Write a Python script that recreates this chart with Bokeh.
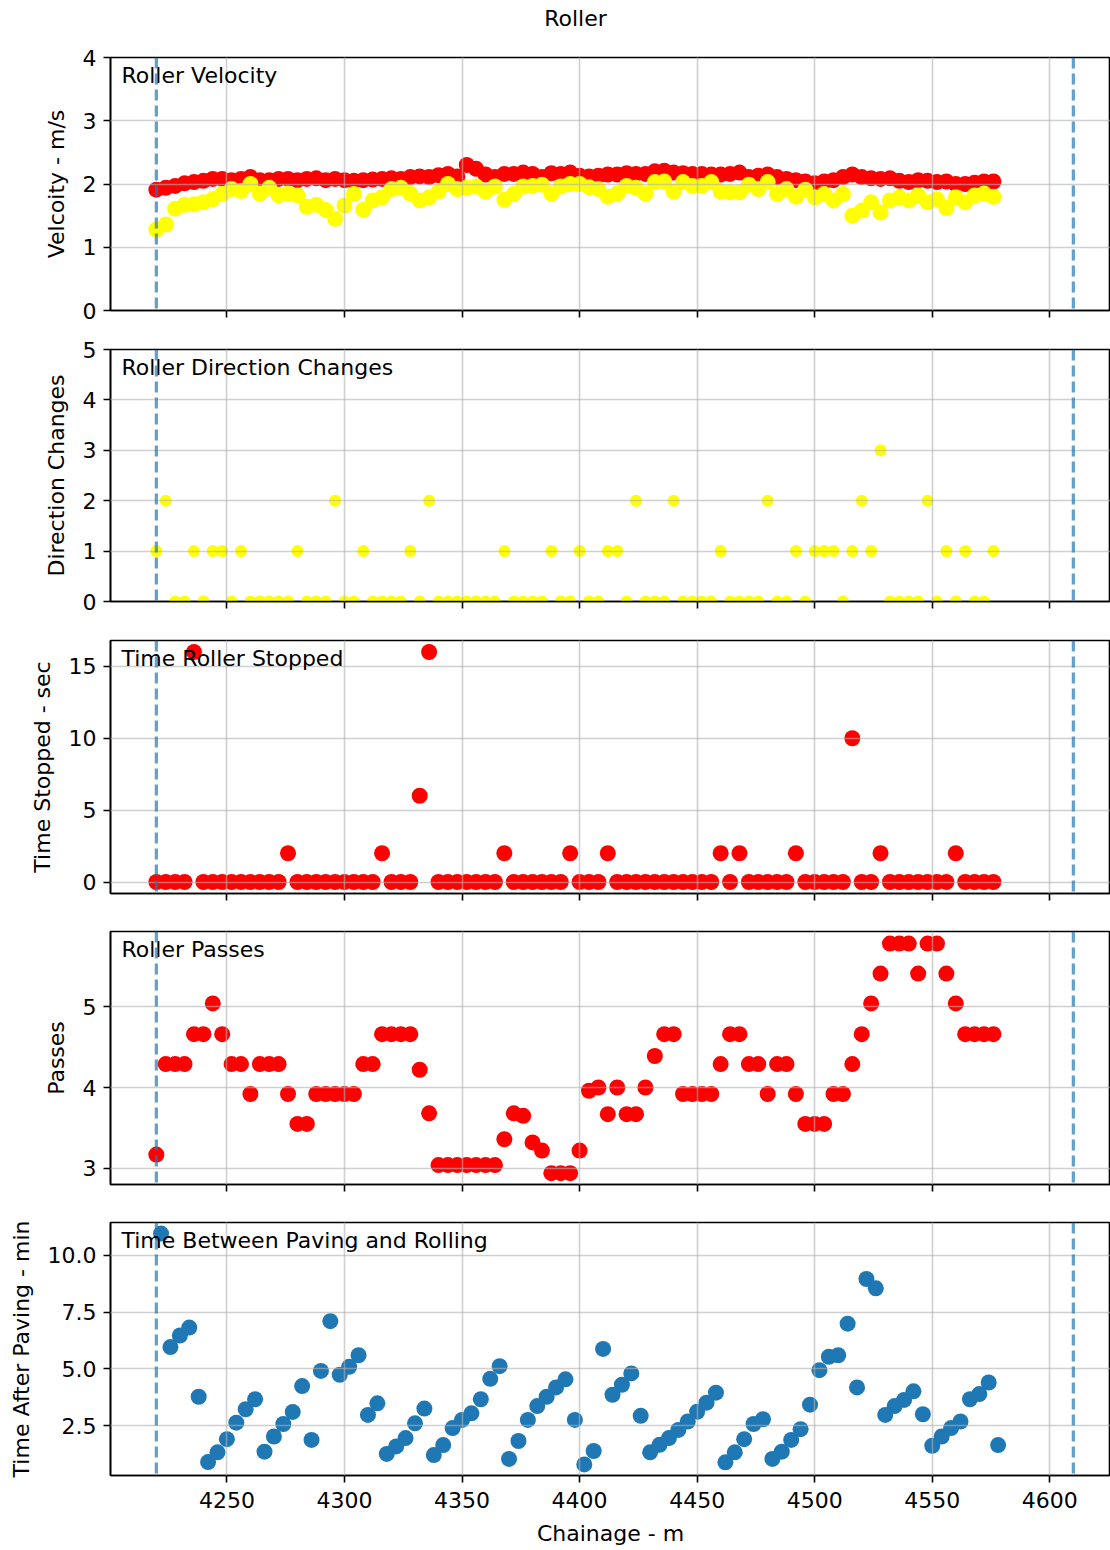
from bokeh.plotting import figure
from bokeh.layouts import column
from bokeh.models import Range1d, FixedTicker, Span, Label, NumeralTickFormatter
from bokeh.embed import file_html
from bokeh.resources import INLINE

# ---------------- data ----------------
chainage = [4220, 4224, 4228, 4232, 4236, 4240, 4244, 4248, 4252, 4256,
            4260, 4264, 4268, 4272, 4276, 4280, 4284, 4288, 4292, 4296,
            4300, 4304, 4308, 4312, 4316, 4320, 4324, 4328, 4332, 4336,
            4340, 4344, 4348, 4352, 4356, 4360, 4364, 4368, 4372, 4376,
            4380, 4384, 4388, 4392, 4396, 4400, 4404, 4408, 4412, 4416,
            4420, 4424, 4428, 4432, 4436, 4440, 4444, 4448, 4452, 4456,
            4460, 4464, 4468, 4472, 4476, 4480, 4484, 4488, 4492, 4496,
            4500, 4504, 4508, 4512, 4516, 4520, 4524, 4528, 4532, 4536,
            4540, 4544, 4548, 4552, 4556, 4560, 4564, 4568, 4572, 4576]

paving_chainage = [4222, 4226, 4230, 4234, 4238, 4242, 4246, 4250, 4254, 4258,
                   4262, 4266, 4270, 4274, 4278, 4282, 4286, 4290, 4294, 4298,
                   4302, 4306, 4310, 4314, 4318, 4322, 4326, 4330, 4334, 4338,
                   4342, 4346, 4350, 4354, 4358, 4362, 4366, 4370, 4374, 4378,
                   4382, 4386, 4390, 4394, 4398, 4402, 4406, 4410, 4414, 4418,
                   4422, 4426, 4430, 4434, 4438, 4442, 4446, 4450, 4454, 4458,
                   4462, 4466, 4470, 4474, 4478, 4482, 4486, 4490, 4494, 4498,
                   4502, 4506, 4510, 4514, 4518, 4522, 4526, 4530, 4534, 4538,
                   4542, 4546, 4550, 4554, 4558, 4562, 4566, 4570, 4574, 4578]

velocity_red = [1.91, 1.94, 1.97, 2.01, 2.03, 2.05, 2.08, 2.08, 2.06, 2.08,
                2.11, 2.06, 2.06, 2.08, 2.08, 2.06, 2.08, 2.09, 2.06, 2.08,
                2.06, 2.05, 2.06, 2.07, 2.08, 2.09, 2.08, 2.11, 2.12, 2.11,
                2.14, 2.16, 2.12, 2.30, 2.24, 2.15, 2.11, 2.16, 2.16, 2.18,
                2.16, 2.11, 2.17, 2.16, 2.18, 2.13, 2.12, 2.13, 2.15, 2.15,
                2.17, 2.16, 2.16, 2.20, 2.21, 2.18, 2.17, 2.16, 2.16, 2.15,
                2.15, 2.16, 2.18, 2.11, 2.13, 2.15, 2.11, 2.08, 2.06, 2.04,
                2.01, 2.04, 2.06, 2.11, 2.15, 2.11, 2.09, 2.08, 2.09, 2.05,
                2.03, 2.06, 2.05, 2.03, 2.04, 2.00, 2.00, 2.02, 2.04, 2.04]

velocity_yellow = [1.28, 1.36, 1.61, 1.67, 1.68, 1.71, 1.76, 1.84, 1.92, 1.89,
                   2.00, 1.85, 1.94, 1.82, 1.85, 1.82, 1.64, 1.67, 1.59, 1.45,
                   1.66, 1.84, 1.59, 1.74, 1.79, 1.92, 1.94, 1.85, 1.74, 1.79,
                   1.88, 2.00, 1.92, 1.94, 1.96, 1.88, 1.96, 1.75, 1.84, 1.96,
                   1.97, 1.99, 1.85, 1.96, 2.00, 2.00, 1.95, 1.92, 1.80, 1.85,
                   1.97, 1.94, 1.85, 2.03, 2.04, 1.88, 2.03, 1.97, 1.97, 2.03,
                   1.88, 1.87, 1.87, 1.99, 1.92, 2.03, 1.84, 1.92, 1.80, 1.91,
                   1.79, 1.84, 1.74, 1.84, 1.50, 1.58, 1.71, 1.55, 1.74, 1.79,
                   1.74, 1.82, 1.71, 1.76, 1.62, 1.79, 1.71, 1.82, 1.85, 1.80]

direction_changes = [1, 2, 0, 0, 1, 0, 1, 1, 0, 1,
                     0, 0, 0, 0, 0, 1, 0, 0, 0, 2,
                     0, 0, 1, 0, 0, 0, 0, 1, 0, 2,
                     0, 0, 0, 0, 0, 0, 0, 1, 0, 0,
                     0, 0, 1, 0, 0, 1, 0, 0, 1, 1,
                     0, 2, 0, 0, 0, 2, 0, 0, 0, 0,
                     1, 0, 0, 0, 0, 2, 0, 0, 1, 0,
                     1, 1, 1, 0, 1, 2, 1, 3, 0, 0,
                     0, 0, 2, 0, 1, 0, 1, 0, 0, 1]

time_stopped = [0, 0, 0, 0, 16, 0, 0, 0, 0, 0,
                0, 0, 0, 0, 2, 0, 0, 0, 0, 0,
                0, 0, 0, 0, 2, 0, 0, 0, 6, 16,
                0, 0, 0, 0, 0, 0, 0, 2, 0, 0,
                0, 0, 0, 0, 2, 0, 0, 0, 2, 0,
                0, 0, 0, 0, 0, 0, 0, 0, 0, 0,
                2, 0, 2, 0, 0, 0, 0, 0, 2, 0,
                0, 0, 0, 0, 10, 0, 0, 2, 0, 0,
                0, 0, 0, 0, 0, 2, 0, 0, 0, 0]

passes = [3.17, 4.29, 4.29, 4.29, 4.66, 4.66, 5.04, 4.66, 4.29, 4.29,
          3.92, 4.29, 4.29, 4.29, 3.92, 3.55, 3.55, 3.92, 3.92, 3.92,
          3.92, 3.92, 4.29, 4.29, 4.66, 4.66, 4.66, 4.66, 4.22, 3.68,
          3.04, 3.04, 3.04, 3.04, 3.04, 3.04, 3.04, 3.36, 3.68, 3.65,
          3.32, 3.22, 2.94, 2.94, 2.94, 3.22, 3.96, 4.00, 3.67, 4.00,
          3.67, 3.67, 4.00, 4.39, 4.66, 4.66, 3.92, 3.92, 3.92, 3.92,
          4.29, 4.66, 4.66, 4.29, 4.29, 3.92, 4.29, 4.29, 3.92, 3.55,
          3.55, 3.55, 3.92, 3.92, 4.29, 4.66, 5.04, 5.41, 5.78, 5.78,
          5.78, 5.41, 5.78, 5.78, 5.41, 5.04, 4.66, 4.66, 4.66, 4.66]

time_after_paving = [10.96, 5.96, 6.47, 6.82, 3.77, 0.89, 1.32, 1.90, 2.63, 3.22,
                     3.66, 1.35, 2.02, 2.57, 3.10, 4.24, 1.87, 4.91, 7.10, 4.74,
                     5.09, 5.60, 2.97, 3.48, 1.25, 1.58, 1.95, 2.60, 3.25, 1.20,
                     1.64, 2.39, 2.75, 3.04, 3.66, 4.56, 5.12, 1.03, 1.82, 2.75,
                     3.36, 3.77, 4.18, 4.54, 2.75, 0.79, 1.38, 5.88, 3.86, 4.30,
                     4.80, 2.93, 1.32, 1.65, 1.95, 2.31, 2.68, 3.11, 3.51, 3.95,
                     0.88, 1.32, 1.90, 2.57, 2.78, 1.03, 1.35, 1.87, 2.34, 3.42,
                     4.94, 5.53, 5.60, 6.99, 4.18, 8.96, 8.55, 2.97, 3.36, 3.63,
                     4.01, 3.00, 1.61, 2.02, 2.39, 2.68, 3.66, 3.89, 4.40, 1.64]

section_limits = [4220, 4610]
x_ticks = [4250, 4300, 4350, 4400, 4450, 4500, 4550, 4600]
figure_title = "Roller"

# ---------------- styling ----------------
FONT = "DejaVu Sans"
FS = "22px"
XMIN, XMAX = 4200.5, 4625.8
FRAME_W = 1000.0


def make_panel(height, top, bottom, yr, yticks, ylabel, title_text, bottom_axis=False):
    p = figure(width=1110, height=height,
               x_range=Range1d(XMIN, XMAX), y_range=Range1d(*yr),
               output_backend="svg", toolbar_location=None,
               min_border_left=110, min_border_right=0,
               min_border_top=top, min_border_bottom=bottom)
    p.background_fill_color = "white"
    p.border_fill_color = "white"
    p.outline_line_color = "black"
    p.outline_line_width = 1.6

    for ax in (p.xaxis[0], p.yaxis[0]):
        ax.axis_line_color = "black"
        ax.axis_line_width = 1.6
        ax.major_tick_line_color = "black"
        ax.major_tick_line_width = 1.6
        ax.major_tick_out = 7
        ax.major_tick_in = 0
        ax.minor_tick_line_color = None
        ax.major_label_text_font = FONT
        ax.major_label_text_font_size = FS
        ax.major_label_text_color = "black"
        ax.axis_label_text_font = FONT
        ax.axis_label_text_font_size = FS
        ax.axis_label_text_font_style = "normal"
        ax.axis_label_text_color = "black"

    p.xaxis.ticker = FixedTicker(ticks=x_ticks)
    p.yaxis.ticker = FixedTicker(ticks=yticks)
    p.yaxis.axis_label = ylabel
    p.yaxis.major_label_standoff = 7
    p.yaxis.axis_label_standoff = 11

    if bottom_axis:
        p.xaxis.axis_label = "Chainage - m"
        p.xaxis.major_label_standoff = 9
        p.xaxis.axis_label_standoff = 10
    else:
        p.xaxis.major_label_overrides = {t: "" for t in x_ticks}
        p.xaxis.major_label_text_font_size = "0px"
        p.xaxis.major_label_standoff = 0

    for g in (p.xgrid[0], p.ygrid[0]):
        g.grid_line_color = "#b0b0b0"
        g.grid_line_alpha = 0.6
        g.grid_line_width = 1.6
        g.level = "guide"
    p.xgrid.ticker = FixedTicker(ticks=x_ticks)
    p.ygrid.ticker = FixedTicker(ticks=yticks)

    fh = height - top - bottom
    lab = Label(x=XMIN + 11 * (XMAX - XMIN) / FRAME_W,
                y=yr[1] - 17.8 * (yr[1] - yr[0]) / fh,
                text=title_text, text_font=FONT, text_font_size=FS,
                text_color="black", text_baseline="alphabetic", text_align="left")
    p.add_layout(lab)
    return p


def add_limits(p):
    for loc in section_limits:
        p.add_layout(Span(location=loc, dimension="height", line_color="#1f77b4",
                          line_alpha=0.7, line_width=3.2, line_dash="11 5"))


# Title strip (figure-level title); frame spans page pixels 110..1110
pt = figure(width=1110, height=40, x_range=Range1d(110, 1110), y_range=Range1d(0, 40),
            output_backend="svg", toolbar_location=None,
            min_border_left=110, min_border_right=0, min_border_top=0, min_border_bottom=0)
pt.xaxis.visible = False
pt.yaxis.visible = False
pt.xgrid.visible = False
pt.ygrid.visible = False
pt.outline_line_color = None
pt.background_fill_color = "white"
pt.border_fill_color = "white"
pt.add_layout(Label(x=575, y=22, text=figure_title, text_font=FONT,
                    text_font_size=FS, text_color="black",
                    text_align="center", text_baseline="middle"))

# Panel 1: velocity
p1 = make_panel(289, 17, 19, (0, 4), [0, 1, 2, 3, 4], "Velcoity - m/s", "Roller Velocity")
p1.scatter(chainage, velocity_red, size=16, color="#ff0000", line_color=None)
p1.scatter(chainage, velocity_yellow, size=16, color="#ffff00", line_color=None)
add_limits(p1)

# Panel 2: direction changes
p2 = make_panel(291, 20, 19, (0, 5), [0, 1, 2, 3, 4, 5], "Direction Changes", "Roller Direction Changes")
p2.scatter(chainage, direction_changes, size=12, color="#ffff00", line_color=None)
add_limits(p2)

# Panel 3: time stopped
p3 = make_panel(292, 20, 19, (-0.8, 16.8), [0, 5, 10, 15], "Time Stopped - sec", "Time Roller Stopped")
p3.scatter(chainage, time_stopped, size=16, color="#ff0000", line_color=None)
add_limits(p3)

# Panel 4: passes
p4 = make_panel(291, 19, 19, (2.80, 5.93), [3, 4, 5], "Passes", "Roller Passes")
p4.scatter(chainage, passes, size=16, color="#ff0000", line_color=None)
add_limits(p4)

# Panel 5: time after paving
p5 = make_panel(347, 19, 75, (0.30, 11.45), [2.5, 5.0, 7.5, 10.0], "Time After Paving - min",
                "Time Between Paving and Rolling", bottom_axis=True)
p5.yaxis.formatter = NumeralTickFormatter(format="0.0")
p5.scatter(paving_chainage, time_after_paving, size=16, color="#1f77b4", line_color=None)
add_limits(p5)

layout = column(pt, p1, p2, p3, p4, p5, spacing=0)
open("out.html", "w").write(file_html(layout, INLINE))
